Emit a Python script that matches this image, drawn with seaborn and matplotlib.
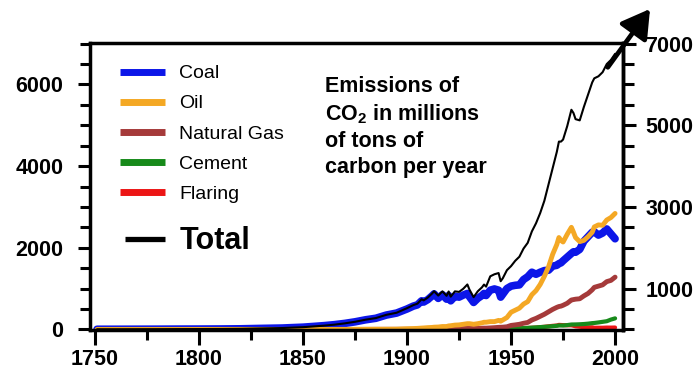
import matplotlib
matplotlib.use("Agg")
import matplotlib.pyplot as plt
import seaborn as sns
import pandas as pd
from matplotlib.lines import Line2D
from matplotlib.ticker import FixedLocator, MultipleLocator

# Global fossil-fuel CO2 emissions, million tons of carbon per year
years = [1751, 1760, 1770, 1780, 1790, 1800, 1810, 1820, 1830, 1840,
         1850, 1855, 1860, 1865, 1870, 1875, 1880, 1885, 1890, 1895,
         1900, 1903, 1905, 1907, 1908, 1910, 1912, 1913, 1915, 1917,
         1919, 1920, 1921, 1923, 1925, 1927, 1929, 1930, 1932, 1934,
         1936, 1937, 1938, 1940, 1942, 1944, 1945, 1946, 1948, 1950,
         1952, 1954, 1956, 1958, 1960, 1962, 1964, 1966, 1968, 1970,
         1972, 1973, 1974, 1975, 1977, 1979, 1980, 1981, 1983, 1985,
         1987, 1989, 1990, 1992, 1994, 1996, 1998, 2000]

coal = [3, 3, 4, 5, 7, 8, 10, 14, 24, 33,
        54, 72, 91, 115, 146, 185, 234, 272, 350, 400,
        500, 570, 600, 700, 670, 730, 820, 870, 760, 850,
        740, 830, 700, 810, 790, 840, 880, 800, 660, 760,
        830, 880, 830, 960, 990, 960, 790, 860, 1000, 1060,
        1080, 1090, 1220, 1290, 1400, 1350, 1400, 1440, 1450, 1550,
        1570, 1610, 1630, 1680, 1770, 1860, 1900, 1890, 1960, 2160,
        2270, 2380, 2390, 2310, 2360, 2460, 2340, 2220]

oil = [0, 0, 0, 0, 0, 0, 0, 0, 0, 0,
       0, 0, 0, 0, 1, 1, 3, 4, 4, 6,
       16, 20, 25, 32, 35, 43, 48, 54, 58, 70,
       70, 85, 90, 105, 110, 125, 140, 140, 125, 140,
       160, 175, 175, 190, 190, 220, 200, 230, 290, 420,
       470, 520, 620, 680, 850, 950, 1100, 1300, 1530, 1840,
       2080, 2250, 2180, 2140, 2330, 2500, 2380, 2250, 2150, 2180,
       2270, 2380, 2510, 2560, 2550, 2680, 2740, 2840]

natural_gas = [0, 0, 0, 0, 0, 0, 0, 0, 0, 0,
               0, 0, 0, 0, 0, 0, 0, 1, 2, 2,
               3, 4, 5, 6, 6, 8, 9, 10, 10, 12,
               12, 13, 12, 16, 18, 21, 25, 24, 22, 24,
               28, 31, 30, 36, 42, 50, 52, 54, 64, 97,
               110, 125, 150, 170, 230, 270, 320, 370, 430, 490,
               540, 560, 570, 590, 640, 720, 730, 740, 750, 820,
               880, 970, 1030, 1060, 1090, 1170, 1200, 1280]

cement = [0, 0, 0, 0, 0, 0, 0, 0, 0, 0,
          0, 0, 0, 0, 0, 0, 0, 0, 0, 0,
          0, 0, 0, 0, 0, 0, 0, 0, 0, 0,
          0, 0, 0, 0, 0, 8, 10, 10, 7, 9,
          11, 12, 12, 14, 12, 8, 7, 10, 14, 18,
          22, 26, 31, 36, 43, 48, 56, 62, 70, 78,
          88, 95, 96, 95, 105, 119, 120, 121, 125, 131,
          140, 153, 157, 170, 185, 200, 240, 270]

flaring = [0, 0, 0, 0, 0, 0, 0, 0, 0, 0,
           0, 0, 0, 0, 0, 0, 0, 0, 0, 0,
           0, 0, 0, 0, 0, 0, 0, 0, 0, 0,
           0, 0, 0, 0, 0, 0, 0, 0, 0, 0,
           0, 0, 0, 0, 0, 0, 0, 0, 18, 23,
           25, 28, 32, 35, 39, 45, 54, 63, 75, 87,
           95, 110, 107, 104, 100, 100, 89, 75, 65, 53,
           50, 50, 39, 40, 40, 44, 43, 45]

total = [3, 3, 4, 5, 7, 8, 10, 14, 24, 33,
         54, 72, 91, 115, 147, 186, 237, 277, 356, 408,
         520, 594, 630, 738, 711, 781, 877, 934, 828, 932,
         822, 928, 802, 931, 918, 994, 1100, 974, 790, 933,
         1029, 1098, 1047, 1300, 1350, 1380, 1180, 1250, 1450, 1550,
         1680, 1780, 1980, 2120, 2400, 2600, 2850, 3150, 3550, 3950,
         4350, 4600, 4600, 4650, 4980, 5380, 5300, 5150, 5120, 5450,
         5750, 6050, 6150, 6200, 6300, 6500, 6600, 6750]

legend_order = ["Coal", "Oil", "Natural Gas", "Cement", "Flaring", "Total"]
series = {"Coal": coal, "Oil": oil, "Natural Gas": natural_gas,
          "Cement": cement, "Flaring": flaring, "Total": total}

colors = {"Coal": "#0c16e8", "Oil": "#f4a824", "Natural Gas": "#a53a3a",
          "Cement": "#178a1a", "Flaring": "#ec1515", "Total": "#000000"}
widths = {"Coal": 5.5, "Oil": 3.5, "Natural Gas": 3.5,
          "Cement": 3.0, "Flaring": 3.0, "Total": 1.5}
draw_order = ["Flaring", "Cement", "Natural Gas", "Coal", "Oil", "Total"]

df = pd.concat(
    [pd.DataFrame({"Year": years, "Emissions": series[k], "Source": k})
     for k in draw_order],
    ignore_index=True,
)

sns.set_theme(style="ticks")
plt.rcParams["font.family"] = ["Liberation Sans", "DejaVu Sans"]
plt.rcParams["font.weight"] = "bold"
plt.rcParams["mathtext.fontset"] = "custom"
plt.rcParams["mathtext.rm"] = "Liberation Sans"
plt.rcParams["mathtext.bf"] = "Liberation Sans:bold"

fig = plt.figure(figsize=(6.96, 3.8), dpi=100)
ax = fig.add_axes([0.1293, 0.1316, 0.7658, 0.7552])

sns.lineplot(data=df, x="Year", y="Emissions", hue="Source", size="Source",
             hue_order=draw_order, size_order=draw_order,
             palette=colors, sizes=widths, estimator=None, sort=False,
             legend=False, ax=ax)

ax.set_xlim(1747.6, 2003.8)
ax.set_ylim(-15, 7015)
ax.set_xlabel("")
ax.set_ylabel("")

# Thick black frame
for side in ["left", "bottom", "top", "right"]:
    ax.spines[side].set_visible(True)
    ax.spines[side].set_color("black")
    ax.spines[side].set_linewidth(2.5)

ax.xaxis.set_major_locator(MultipleLocator(50))
ax.xaxis.set_minor_locator(MultipleLocator(25))
ax.yaxis.set_major_locator(FixedLocator([0, 2000, 4000, 6000]))
ax.yaxis.set_minor_locator(MultipleLocator(500))
ax.tick_params(axis="both", which="both", color="black", labelcolor="black",
               width=2.2, direction="out")
ax.tick_params(axis="x", which="major", length=11, labelsize=15.5, pad=3)
ax.tick_params(axis="x", which="minor", length=7)
ax.tick_params(axis="y", which="major", length=9, labelsize=15.5, pad=10)
ax.tick_params(axis="y", which="minor", length=7)

# Right-hand scale
ax2 = ax.twinx()
ax2.set_ylim(ax.get_ylim())
for side in ["left", "bottom", "top"]:
    ax2.spines[side].set_visible(False)
ax2.spines["right"].set_color("black")
ax2.spines["right"].set_linewidth(2.5)
ax2.yaxis.set_major_locator(FixedLocator([1000, 3000, 5000, 7000]))
ax2.yaxis.set_minor_locator(MultipleLocator(500))
ax2.tick_params(axis="y", which="both", color="black", labelcolor="black",
                width=2.2, direction="out")
ax2.tick_params(axis="y", which="major", length=9, labelsize=15.5, pad=7)
ax2.tick_params(axis="y", which="minor", length=8)
ax2.set_ylabel("")

# Growth arrow continuing the total curve
ax.annotate("", xy=(2016.8, 7850), xytext=(1996.5, 6420),
            arrowprops=dict(arrowstyle="-|>,head_length=0.85,head_width=0.5",
                            lw=3.4, color="black", mutation_scale=20,
                            shrinkA=0, shrinkB=0),
            annotation_clip=False, zorder=10)

# Legend: fuel sources
handles = [Line2D([], [], color=colors[k], lw=5.0, solid_capstyle="butt")
           for k in legend_order[:-1]]
leg = ax.legend(handles, legend_order[:-1], loc="upper left",
                bbox_to_anchor=(0.056, 0.924), frameon=False,
                prop=dict(family=["Liberation Sans"], size=14, weight="normal"),
                labelcolor="black", handlelength=2.3, handletextpad=0.75,
                labelspacing=0.64, borderaxespad=0, borderpad=0)
ax.add_artist(leg)

# Legend: total
total_handle = [Line2D([], [], color="black", lw=3.8, solid_capstyle="butt")]
ax.legend(total_handle, ["Total"], loc="upper left",
          bbox_to_anchor=(0.0657, 0.361), frameon=False,
          prop=dict(family=["Liberation Sans"], size=22, weight="bold"),
          labelcolor="black", handlelength=1.3, handletextpad=0.5,
          borderaxespad=0, borderpad=0)

fig.text(0.467, 0.80,
         "Emissions of\nCO$_{\\mathbf{2}}$ in millions\nof tons of\ncarbon per year",
         fontsize=15.5, fontweight="bold", ha="left", va="top", linespacing=1.31,
         color="black")

fig.savefig("out.png", dpi=100, facecolor="white")
